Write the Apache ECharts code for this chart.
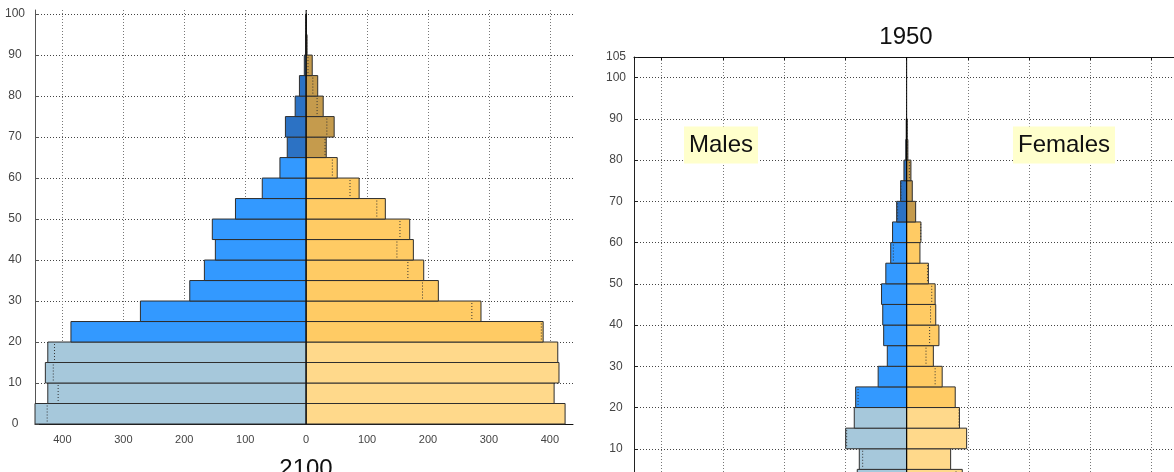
<!DOCTYPE html>
<html><head><meta charset="utf-8">
<script src="https://cdn.jsdelivr.net/npm/echarts@6/dist/echarts.min.js"></script>
<style>html,body{margin:0;padding:0;background:#fff}#c{width:1174px;height:472px}</style>
</head><body><div id="c"></div>
<script>
// Age groups (start of each 5-year band)
const ageStarts = [0,5,10,15,20,25,30,35,40,45,50,55,60,65,70,75,80,85,90,95];
// Left pyramid (caption "2100" below it)
const male2100   = [450,424,428,424,386,272,191,167,149,154,116,72,43,31,34,18,11,3,1,0.4];
const female2100 = [425,407,415,413,389,287,217,193,176,170,130,87,51,33,46,28,19,10,1.5,0.3];
// Right pyramid "1950"
const male1950   = [80.6,77.3,99.5,85.5,83.2,46.5,31.6,37.5,39,41,34,26,23,16.3,9.8,4.4,1.5,0.7,0,0];
const female1950 = [90.8,71.8,97.9,86.2,79.3,58,43.6,52.7,47.5,46.5,35.5,21.7,23.3,14.7,9.2,7,2,0.8,0,0];
const titleRight = '1950';
const titleLeftBottom = '2100';
const labelMales = 'Males';
const labelFemales = 'Females';

const FONT = '"Liberation Sans", Arial, sans-serif';
const malePal = ['#a6c8db', '#3399ff', '#2c72c4'];
const femalePal = ['#ffd98b', '#ffcb64', '#c59b4d'];

function rows(vals, others) {
  return ageStarts.map((a, i) => [a, vals[i], others[i]]);
}

function makeRender(sign, pal) {
  return function (params, api) {
    const age = api.value(0), v = api.value(1), other = api.value(2);
    if (!(v > 0)) return;
    const cs = params.coordSys;
    const a = api.coord([0, age]);
    const b = api.coord([sign * v, age + 5]);
    const raw = {x: Math.min(a[0], b[0]), y: Math.min(a[1], b[1]),
                 width: Math.abs(b[0] - a[0]), height: Math.abs(b[1] - a[1])};
    const rect = echarts.graphic.clipRectByRect(raw, {x: cs.x, y: cs.y, width: cs.width, height: cs.height});
    if (!rect) return;
    const fill = age < 20 ? pal[0] : (age < 65 ? pal[1] : pal[2]);
    const children = [{type: 'rect', shape: rect, style: {fill: fill, stroke: '#2e2e2e', lineWidth: 1}}];
    if (other > 0 && other < v) {
      const m = api.coord([sign * other, age]);
      children.push({type: 'line', shape: {x1: m[0], y1: rect.y + 2, x2: m[0], y2: rect.y + rect.height - 2},
        style: {stroke: '#333', lineWidth: 1, lineDash: [1, 2]}});
    }
    return {type: 'group', children: children};
  };
}

const hGrid = {show: true, lineStyle: {color: '#444', width: 1, type: [1, 2]}, showMaxLine: false};
const vGrid = {show: true, lineStyle: {color: '#777', width: 1, type: [1, 2]}, showMinLine: false, showMaxLine: false};

const chart = echarts.init(document.getElementById('c'), null, {renderer: 'canvas'});
chart.setOption({
  animation: false,
  backgroundColor: '#fff',
  textStyle: {fontFamily: FONT},
  grid: [
    {left: 35, right: 601, top: 10, bottom: 48, outerBoundsMode: 'none', containLabel: false},
    {left: 634, right: -1, top: 57, bottom: -18, outerBoundsMode: 'none', containLabel: false}
  ],
  xAxis: [
    {type: 'value', gridIndex: 0, min: -445, max: 438, splitNumber: 9,
     axisLine: {show: true, onZero: false, lineStyle: {color: '#111', width: 1}},
     axisTick: {show: false},
     axisLabel: {show: true, color: '#444', fontSize: 11, margin: 10, fontFamily: FONT,
       showMinLabel: false, showMaxLabel: false, formatter: v => String(Math.abs(v))},
     splitLine: vGrid},
    {type: 'value', gridIndex: 1, min: -445, max: 438, splitNumber: 9,
     axisLine: {show: true, onZero: false, lineStyle: {color: '#111'}},
     axisTick: {show: false}, axisLabel: {show: false},
     splitLine: vGrid},
    {type: 'value', gridIndex: 1, position: 'top', min: -445, max: 438, splitNumber: 9,
     axisLine: {show: true, onZero: false, lineStyle: {color: '#111', width: 1}},
     axisTick: {show: true, inside: true, length: 3, lineStyle: {color: '#111'}},
     axisLabel: {show: false}, splitLine: {show: false}}
  ],
  yAxis: [
    {type: 'value', gridIndex: 0, min: 0, max: 101, interval: 10,
     axisLine: {show: true, onZero: false, lineStyle: {color: '#555', width: 1}},
     axisTick: {show: true, inside: true, length: 4, lineStyle: {color: '#555'}},
     axisLabel: {color: '#444', fontSize: 12, align: 'center', margin: 20, fontFamily: FONT,
       showMaxLabel: false},
     splitLine: hGrid},
    {type: 'value', gridIndex: 1, min: 0, max: 105, interval: 10,
     axisLine: {show: true, onZero: false, lineStyle: {color: '#222', width: 1}},
     axisTick: {show: true, inside: true, length: 4, lineStyle: {color: '#222'}},
     axisLabel: {color: '#444', fontSize: 12, align: 'center', margin: 18, fontFamily: FONT},
     splitLine: Object.assign({}, hGrid, {showMaxLine: true})}
  ],
  series: [
    {type: 'custom', xAxisIndex: 0, yAxisIndex: 0, renderItem: makeRender(-1, malePal),
     data: rows(male2100, female2100), silent: true, z: 3},
    {type: 'custom', xAxisIndex: 0, yAxisIndex: 0, renderItem: makeRender(1, femalePal),
     data: rows(female2100, male2100), silent: true, z: 3},
    {type: 'custom', xAxisIndex: 1, yAxisIndex: 1, renderItem: makeRender(-1, malePal),
     data: rows(male1950, female1950), silent: true, z: 3},
    {type: 'custom', xAxisIndex: 1, yAxisIndex: 1, renderItem: makeRender(1, femalePal),
     data: rows(female1950, male1950), silent: true, z: 3},
    {type: 'line', xAxisIndex: 0, yAxisIndex: 0, data: [[0, 0], [0, 101]], symbol: 'none', silent: true, z: 4,
     lineStyle: {color: '#000', width: 1}},
    {type: 'line', xAxisIndex: 1, yAxisIndex: 1, data: [[0, 0], [0, 105]], symbol: 'none', silent: true, z: 4,
     lineStyle: {color: '#000', width: 1}}
  ],
  graphic: [
    {type: 'text', x: 906, y: 37, silent: true,
     style: {text: titleRight, fontSize: 24, fontFamily: FONT, fill: '#111', align: 'center', verticalAlign: 'middle'}},
    {type: 'text', x: 306, y: 469, silent: true,
     style: {text: titleLeftBottom, fontSize: 24, fontFamily: FONT, fill: '#111', align: 'center', verticalAlign: 'middle'}},
    {type: 'text', x: 721, y: 145, silent: true, z: 10,
     style: {text: labelMales, fontSize: 24, fontFamily: FONT, fill: '#111', align: 'center', verticalAlign: 'middle',
       backgroundColor: '#ffffcc', padding: [7, 5, 6, 5]}},
    {type: 'text', x: 1064, y: 145, silent: true, z: 10,
     style: {text: labelFemales, fontSize: 24, fontFamily: FONT, fill: '#111', align: 'center', verticalAlign: 'middle',
       backgroundColor: '#ffffcc', padding: [7, 5, 6, 5]}}
  ]
});
</script></body></html>
